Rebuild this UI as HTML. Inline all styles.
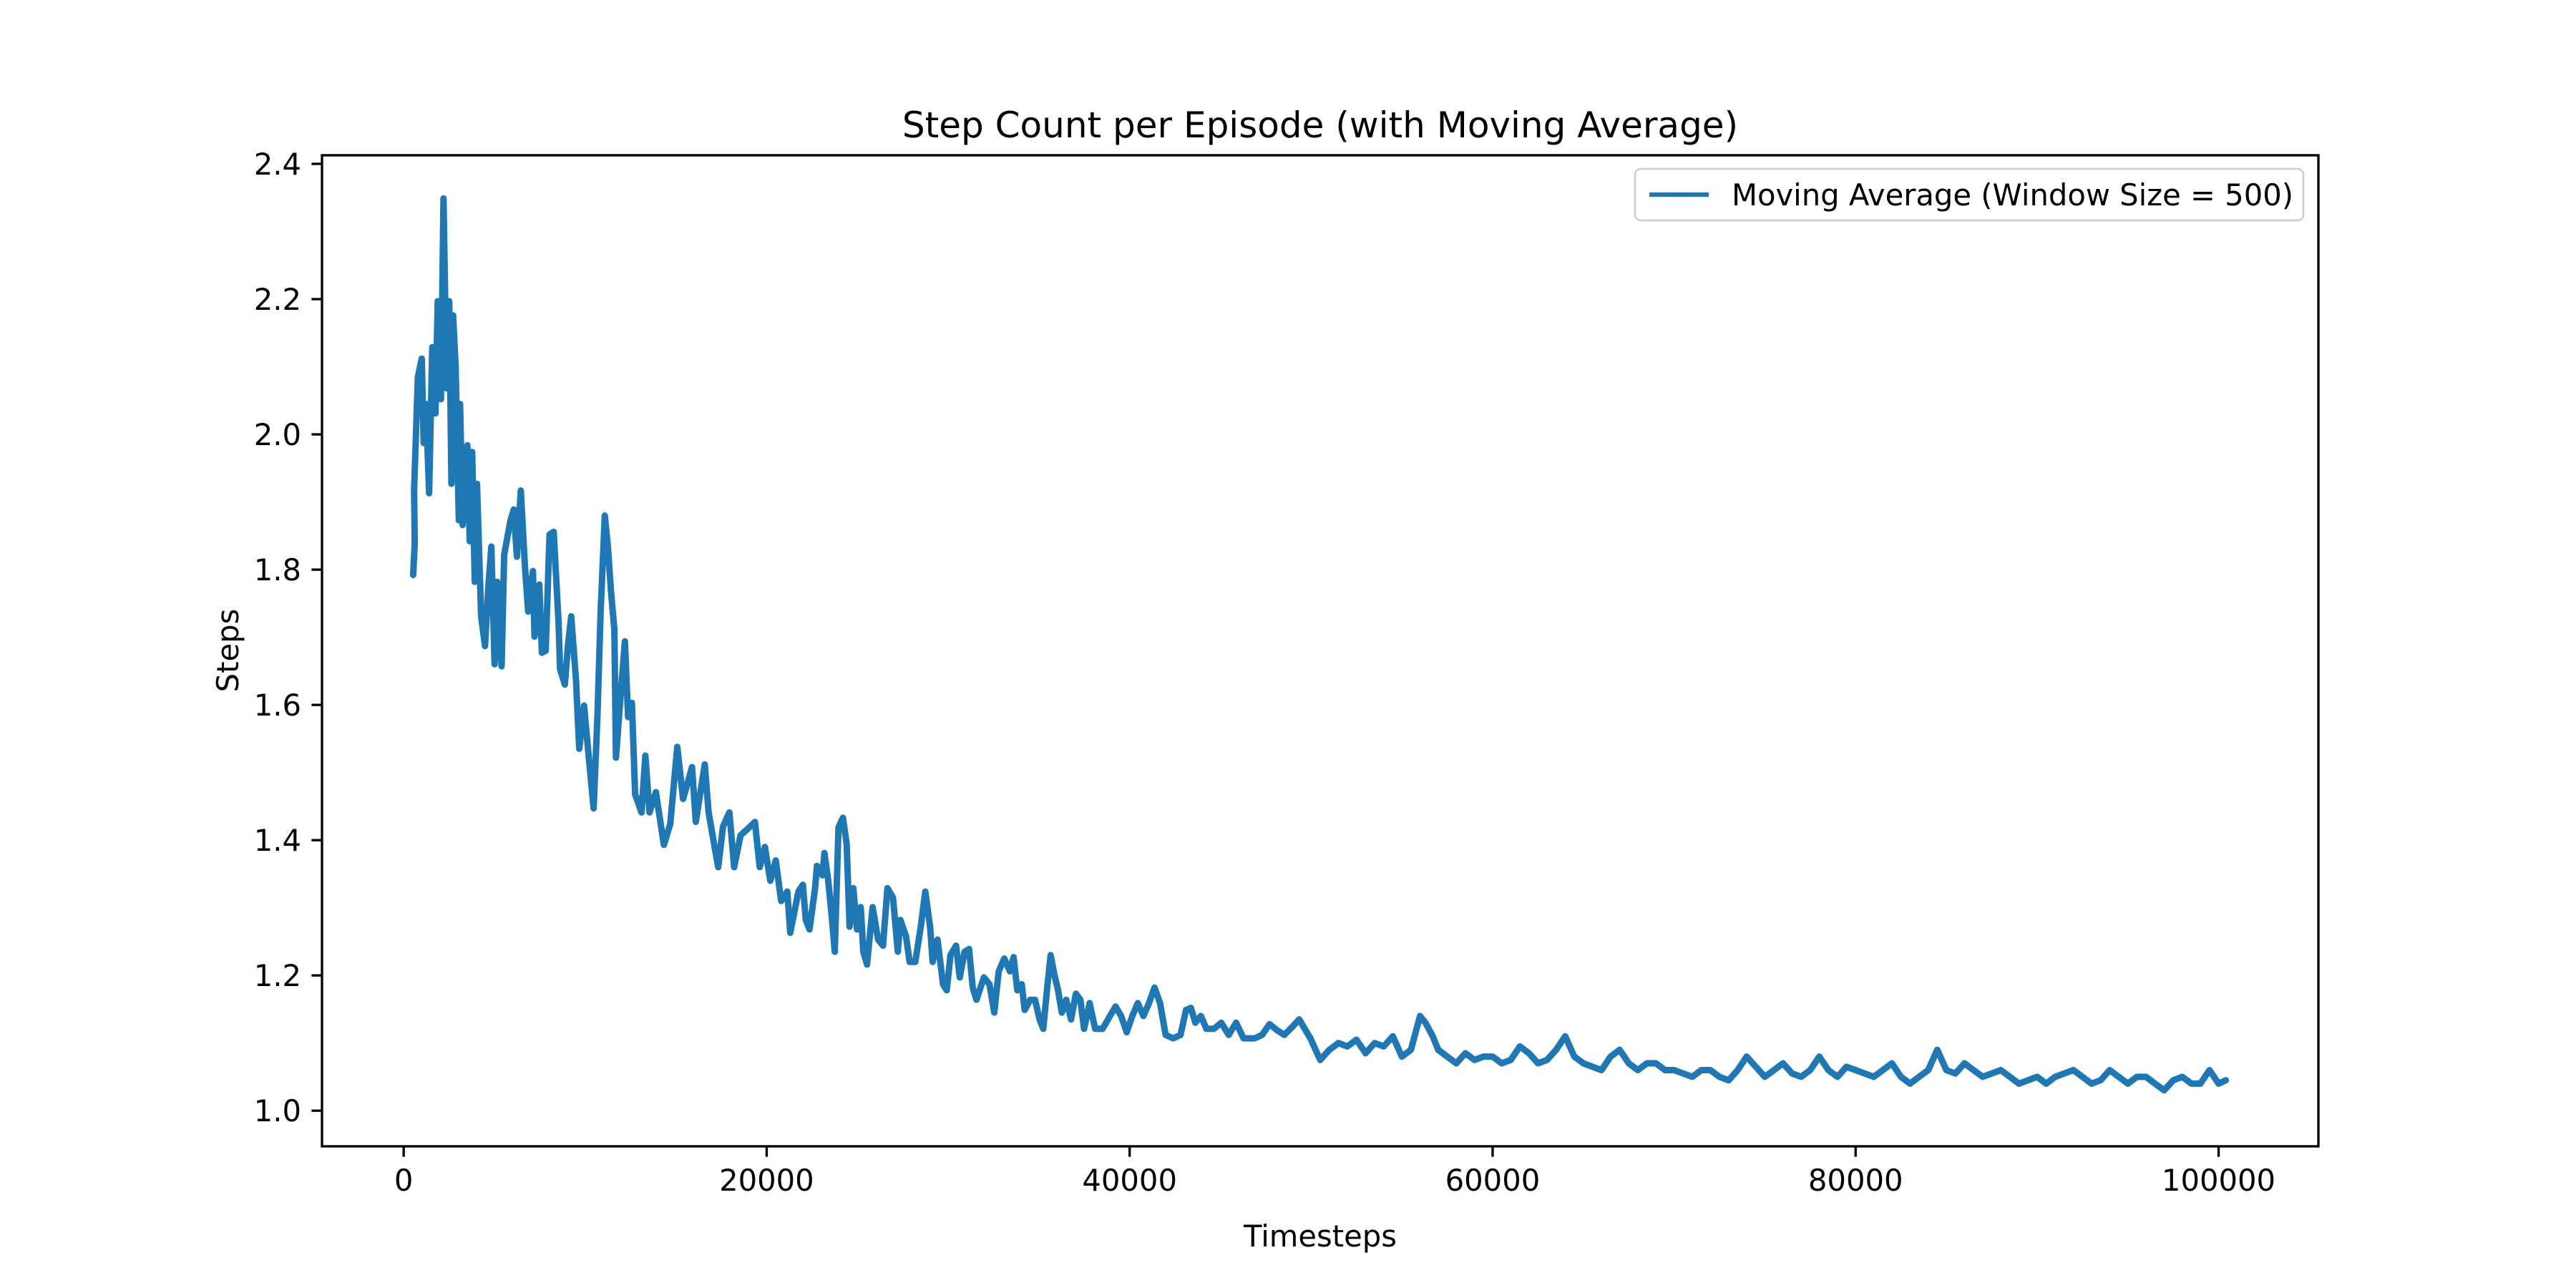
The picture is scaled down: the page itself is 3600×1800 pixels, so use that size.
<!DOCTYPE html>
<html><head><meta charset="utf-8">
<style>
html,body{margin:0;padding:0;background:#fff;}
svg{display:block;font-family:"DejaVu Sans","Liberation Sans",sans-serif;}
</style></head>
<body>
<svg id="chart" width="3600" height="1800" viewBox="0 0 3600 1800">
<rect x="0" y="0" width="3600" height="1800" fill="#fff"/>
<text x="1845" y="192" font-size="50" text-anchor="middle">Step Count per Episode (with Moving Average)</text>
<text x="1845" y="1742" font-size="41.7" text-anchor="middle">Timesteps</text>
<text transform="translate(333,909) rotate(-90)" font-size="41.7" text-anchor="middle">Steps</text>
<g id="plot"></g>
</svg>
<script>
const xTicks = [0, 20000, 40000, 60000, 80000, 100000];
const yTicks = [1.0, 1.2, 1.4, 1.6, 1.8, 2.0, 2.2, 2.4];
const yTickLabels = ["1.0","1.2","1.4","1.6","1.8","2.0","2.2","2.4"];
const seriesX = [521,609,574,785,996,1102,1225,1401,1577,1753,1876,2052,2193,2369,2510,2633,2721,2862,3038,3108,3249,3513,3636,3777,3918,4041,4270,4481,4657,4833,5009,5150,5396,5537,5889,6065,6241,6452,6681,6857,7121,7209,7473,7614,7825,8036,8265,8529,8617,8881,9057,9233,9497,9673,9937,10201,10465,10677,10853,11081,11257,11433,11609,11697,11961,12190,12366,12577,12753,13105,13316,13545,13897,14337,14689,15076,15393,15886,16097,16590,16801,17065,17329,17593,17945,18209,18561,19089,19353,19617,19900,20200,20500,20800,
21136,21300,21749,21994,22158,22362,22669,22771,23078,23180,23384,23589,23752,23957,24202,24406,24570,24774,24979,25183,25326,25530,25837,26144,26409,26655,26962,27227,27370,27677,27881,28188,28494,28739,29005,29148,29414,29720,29925,30129,30436,30641,30906,31152,31356,31561,31969,32276,32542,32787,33094,33400,33604,33809,34054,34218,34525,34790,35035,35240,35444,35648,35853,36057,36262,36507,36773,37038,37284,37488,37795,38101,38510,38918,39225,39532,39838,40145,40452,40758,41065,41372,41678,41985,42394,42802,43109,43375,43620,43926,44233,44642,45050,45459,45868,46276,46889,47300,47708,48118,48525,49036,49344,49650,49958,
50500,51000,51500,52000,52500,53000,53500,54000,54500,55000,55500,56000,56300,56700,57000,57500,58000,58500,59000,59500,60000,60500,61000,61500,62000,62500,63000,63500,64000,64500,65000,65500,66000,66500,67000,67500,68000,68500,69000,69500,70000,70500,71000,71500,72000,72500,73000,73500,74000,74500,75000,75500,76000,76500,77000,77500,78000,78500,79000,79500,80000,80500,81000,81500,82000,82500,83000,83500,84000,84500,85000,85500,86000,86500,87000,87500,88000,88500,89000,89500,90000,90500,91000,91500,92000,92500,93000,93500,94000,94500,95000,95500,96000,96500,97000,97500,98000,98500,99000,99500,100000,100400];
const seriesY = [1.792,1.839,1.917,2.085,2.112,1.987,2.045,1.913,2.129,2.031,2.197,2.052,2.349,2.068,2.197,1.927,2.176,2.102,1.873,2.045,1.866,1.984,1.842,1.974,1.782,1.927,1.731,1.687,1.772,1.834,1.660,1.782,1.657,1.822,1.873,1.889,1.819,1.917,1.805,1.738,1.798,1.701,1.778,1.677,1.680,1.852,1.856,1.724,1.653,1.630,1.690,1.731,1.636,1.535,1.599,1.522,1.447,1.582,1.738,1.880,1.832,1.765,1.711,1.522,1.616,1.694,1.582,1.603,1.468,1.441,1.525,1.441,1.471,1.393,1.424,1.538,1.461,1.508,1.427,1.512,1.441,1.400,1.360,1.420,1.441,1.360,1.407,1.420,1.427,1.360,1.390,1.340,1.370,1.310,
1.324,1.263,1.324,1.334,1.282,1.268,1.329,1.362,1.348,1.381,1.343,1.287,1.235,1.419,1.433,1.395,1.272,1.329,1.268,1.301,1.235,1.216,1.301,1.253,1.244,1.329,1.315,1.235,1.282,1.258,1.220,1.220,1.272,1.324,1.272,1.220,1.253,1.187,1.178,1.230,1.244,1.197,1.235,1.239,1.182,1.164,1.197,1.187,1.145,1.206,1.225,1.206,1.227,1.178,1.187,1.149,1.164,1.164,1.135,1.121,1.178,1.230,1.201,1.178,1.145,1.164,1.135,1.173,1.164,1.121,1.159,1.121,1.121,1.140,1.154,1.140,1.116,1.140,1.159,1.140,1.159,1.182,1.159,1.112,1.107,1.112,1.149,1.152,1.130,1.140,1.121,1.121,1.130,1.112,1.130,1.107,1.107,1.112,1.128,1.119,1.112,1.126,1.135,1.121,1.107,
1.075,1.090,1.100,1.095,1.105,1.085,1.100,1.095,1.110,1.080,1.090,1.140,1.130,1.110,1.090,1.080,1.070,1.085,1.075,1.080,1.080,1.070,1.075,1.095,1.085,1.070,1.075,1.090,1.110,1.080,1.070,1.065,1.060,1.080,1.090,1.070,1.060,1.070,1.070,1.060,1.060,1.055,1.050,1.060,1.060,1.050,1.045,1.060,1.080,1.065,1.050,1.060,1.070,1.055,1.050,1.060,1.080,1.060,1.050,1.065,1.060,1.055,1.050,1.060,1.070,1.050,1.040,1.050,1.060,1.090,1.060,1.055,1.070,1.060,1.050,1.055,1.060,1.050,1.040,1.045,1.050,1.040,1.050,1.055,1.060,1.050,1.040,1.045,1.060,1.050,1.040,1.050,1.050,1.040,1.030,1.045,1.050,1.040,1.040,1.060,1.040,1.045];

const L=450,R=3240,T=217,B=1602;
const X0=-4500,X1=105500,Y0=0.9473,Y1=2.4127;
function sx(v){return L+(v-X0)/(X1-X0)*(R-L);}
function sy(v){return B-(v-Y0)/(Y1-Y0)*(B-T);}
const NS="http://www.w3.org/2000/svg";
const g=document.getElementById('plot');
function mk(tag,attrs,parent){const e=document.createElementNS(NS,tag);for(const k in attrs)e.setAttribute(k,attrs[k]);(parent||g).appendChild(e);return e;}

let d='';
for(let i=0;i<seriesX.length;i++){d+=(i?'L':'M')+sx(seriesX[i]).toFixed(1)+' '+sy(seriesY[i]).toFixed(1);}
const clip=mk('clipPath',{id:'cp'});mk('rect',{x:L,y:T,width:R-L,height:B-T},clip);
const line=mk('path',{d:d,fill:'none',stroke:'#1f77b4','stroke-width':9,'stroke-linejoin':'round','stroke-linecap':'round','clip-path':'url(#cp)'});



const frame=mk('rect',{x:L,y:T,width:R-L,height:B-T,fill:'none',stroke:'#000','stroke-width':3.33});



xTicks.forEach(v=>{
  const t=mk('line',{x1:sx(v),x2:sx(v),y1:B,y2:B+14.6,stroke:'#000','stroke-width':3.33});
  
  
  const tx=mk('text',{x:sx(v),y:B+62,'font-size':41.7,'text-anchor':'middle'});
  tx.textContent=String(v);
  
  
});
yTicks.forEach((v,i)=>{
  const t=mk('line',{x1:L-14.6,x2:L,y1:sy(v),y2:sy(v),stroke:'#000','stroke-width':3.33});
  
  
  const tx=mk('text',{x:L-29,y:sy(v)+15,'font-size':41.7,'text-anchor':'end'});
  tx.textContent=yTickLabels[i];
  
  
});

const lg=mk('g',{});


mk('rect',{x:2285,y:236,width:934,height:72,rx:8,fill:'#fff','fill-opacity':0.8,stroke:'#ccc','stroke-width':2.5},lg);
const ll=mk('line',{x1:2305,x2:2388,y1:272,y2:272,stroke:'#1f77b4','stroke-width':6.25},lg);


const lt=mk('text',{x:2420,y:287,'font-size':41.7},lg);
lt.textContent='Moving Average (Window Size = 500)';


</script>
</body></html>
